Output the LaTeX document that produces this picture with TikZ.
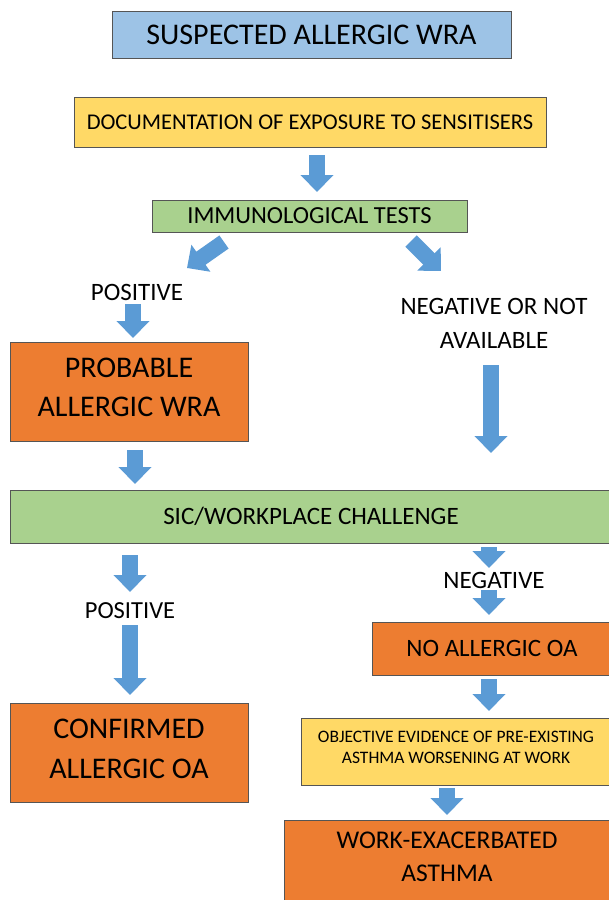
\documentclass[tikz,border=0pt]{standalone}
\usepackage{fontspec}
\setmainfont{Carlito}
\usetikzlibrary{arrows.meta}
\definecolor{cblue}{HTML}{9DC3E6}
\definecolor{cyellow}{HTML}{FFD966}
\definecolor{cgreen}{HTML}{A9D18E}
\definecolor{corange}{HTML}{ED7D31}
\definecolor{carrow}{HTML}{5B9BD5}
\definecolor{cborder}{HTML}{555555}
\tikzset{
  box/.style={draw=cborder, line width=0.9pt, inner sep=0pt, align=center, text=black},
  bluebox/.style={box, fill=cblue},
  yellowbox/.style={box, fill=cyellow},
  greenbox/.style={box, fill=cgreen},
  orangebox/.style={box, fill=corange},
  lbl/.style={inner sep=0pt, align=center, text=black},
  barrow/.style={draw=carrow, line width=16pt, -{Triangle[width=32pt,length=17pt]}},
}
\begin{document}
\begin{tikzpicture}[x=1pt,y=-1pt]
\clip (0,0) rectangle (609,900);
\fill[white] (0,0) rectangle (609,900);

% boxes
\node[bluebox, minimum width=399pt, minimum height=47pt, font=\fontsize{30}{34}\selectfont] (susp) at (311.5,34.5) {SUSPECTED ALLERGIC WRA};
\node[yellowbox, minimum width=472pt, minimum height=50pt, font=\fontsize{22.5}{26}\selectfont] (doc) at (310,122) {DOCUMENTATION OF EXPOSURE TO SENSITISERS};
\node[greenbox, minimum width=315pt, minimum height=32pt, font=\fontsize{24.5}{28}\selectfont] (imm) at (309.5,216) {IMMUNOLOGICAL TESTS};
\node[orangebox, minimum width=238pt, minimum height=99pt, font=\fontsize{30}{39}\selectfont] (prob) at (129,391.5) {};
\node[lbl, font=\fontsize{30}{39}\selectfont] (probt) at (129,387) {PROBABLE\\ALLERGIC WRA};
\node[greenbox, minimum width=602pt, minimum height=53pt, font=\fontsize{25}{28}\selectfont] (sic) at (311,516.5) {SIC/WORKPLACE CHALLENGE};
\node[orangebox, minimum width=238pt, minimum height=99pt] (conf) at (129,752.5) {};
\node[lbl, font=\fontsize{30}{40}\selectfont] (conft) at (129,748.5) {CONFIRMED\\ALLERGIC OA};
\node[orangebox, minimum width=240pt, minimum height=53pt, font=\fontsize{25}{28}\selectfont] (noa) at (492,648.5) {NO ALLERGIC OA};
\node[yellowbox, minimum width=310pt, minimum height=67pt] (obj) at (456,751.5) {};
\node[lbl, font=\fontsize{17.5}{21}\selectfont] (objt) at (456,747.5) {OBJECTIVE EVIDENCE OF PRE-EXISTING\\ASTHMA WORSENING AT WORK};
\node[orangebox, minimum width=326pt, minimum height=86pt] (wea) at (447,863) {};
\node[lbl, font=\fontsize{25.5}{33}\selectfont] (weat) at (447,857) {WORK-EXACERBATED\\ASTHMA};

% labels
\node[lbl, font=\fontsize{25}{28}\selectfont] (pos1) at (137,292) {POSITIVE};
\node[lbl, font=\fontsize{25}{34}\selectfont] (neg1) at (494,323) {NEGATIVE OR NOT\\AVAILABLE};
\node[lbl, font=\fontsize{24.5}{28}\selectfont] (pos2) at (130,611) {POSITIVE};
\node[lbl, font=\fontsize{25}{28}\selectfont] (neg2) at (494,580) {NEGATIVE};

% arrow end points
\coordinate (a1s) at (317,155); \coordinate (a1e) at (317,192);
\coordinate (a2s) at (224,242); \coordinate (a2e) at (187,268);
\coordinate (a3s) at (411,241); \coordinate (a3e) at (441,271);
\coordinate (a4s) at (133,304); \coordinate (a4e) at (133,338);
\coordinate (a5s) at (491,365); \coordinate (a5e) at (491,453);
\coordinate (a6s) at (135,450); \coordinate (a6e) at (135,484);
\coordinate (a7s) at (130,555); \coordinate (a7e) at (130,592);
\coordinate (a8s) at (130,625); \coordinate (a8e) at (130,695);
\coordinate (a9s) at (489,547); \coordinate (a9e) at (489,568);
\coordinate (a10s) at (489,590); \coordinate (a10e) at (489,615);
\coordinate (a11s) at (489,679); \coordinate (a11e) at (489,711);
\coordinate (a12s) at (447,788); \coordinate (a12e) at (447,815);

\foreach \i in {1,...,12} { \draw[barrow] (a\i s) -- (a\i e); }
\end{tikzpicture}
\end{document}
